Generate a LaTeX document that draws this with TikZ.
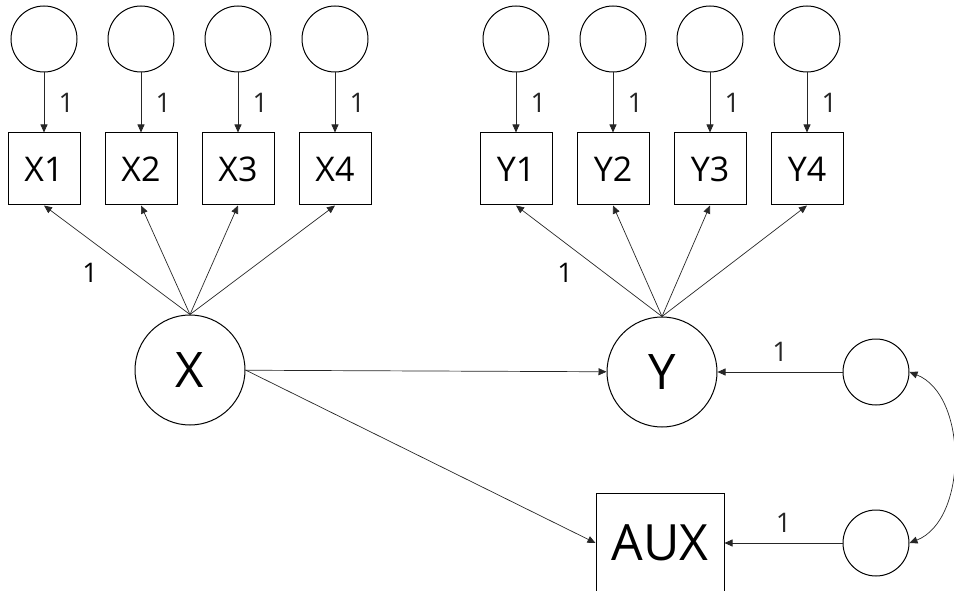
\documentclass[tikz,border=0pt]{standalone}
\usepackage{fontspec}
\setmainfont{Open Sans}
\usetikzlibrary{arrows.meta}

\begin{document}
\begin{tikzpicture}[x=1pt,y=-1pt,
	errc/.style={draw,circle,line width=1pt,minimum size=66pt,inner sep=0pt},
	obs/.style={draw,rectangle,line width=1pt,minimum size=72pt,inner sep=0pt,font=\fontsize{34}{38}\selectfont},
	lat/.style={draw,circle,line width=1pt,minimum size=110pt,inner sep=0pt,font=\fontsize{49}{54}\selectfont},
	arr/.style={-{Triangle[length=8pt,width=7pt]},line width=0.7pt,black!85},
	one/.style={font=\fontsize{27}{30}\selectfont}]
	\useasboundingbox (0,0) rectangle (954,591);
	% latent variables
	\node[lat] (X) at (190,370) {X};
	\node[lat] (Y) at (662,372) {Y};
	\node[draw,rectangle,line width=1pt,minimum width=128pt,minimum height=100pt,inner sep=0pt,font=\fontsize{50}{56}\selectfont] (AUX) at (660,543) {AUX};
	% indicators of X
	\foreach \i/\x in {1/44,2/141,3/238,4/335}{
		\node[errc] (ex\i) at (\x,39) {};
		\node[obs] (x\i) at (\x,169) {X\i};
		\draw[arr] (ex\i) -- (x\i) node[midway,right,xshift=11pt,one] {1};
		\draw[arr] (X.north) -- (x\i.south);
	}
	% indicators of Y
	\foreach \i/\x in {1/516,2/613,3/710,4/807}{
		\node[errc] (ey\i) at (\x,39) {};
		\node[obs] (y\i) at (\x,169) {Y\i};
		\draw[arr] (ey\i) -- (y\i) node[midway,right,xshift=11pt,one] {1};
		\draw[arr] (Y.north) -- (y\i.south);
	}
	% fixed loadings
	\node[one] (l1) at (90,273) {1};
	\node[one] (l2) at (565,273) {1};
	% residuals
	\node[errc] (dy) at (876,372) {};
	\node[errc] (daux) at (876,543) {};
	\draw[arr] (dy) -- (Y) node[midway,above=7pt,one] {1};
	\draw[arr] (daux) -- (AUX) node[midway,above=7pt,one] {1};
	\draw[{Triangle[length=8pt,width=7pt]}-{Triangle[length=8pt,width=7pt]},line width=0.7pt,black!85] (dy.east) .. controls (968,395) and (968,520) .. (daux.east);
	% regressions
	\draw[arr] (X) -- (Y);
	\draw[arr] (X.east) -- (AUX.west);
\end{tikzpicture}
\end{document}
